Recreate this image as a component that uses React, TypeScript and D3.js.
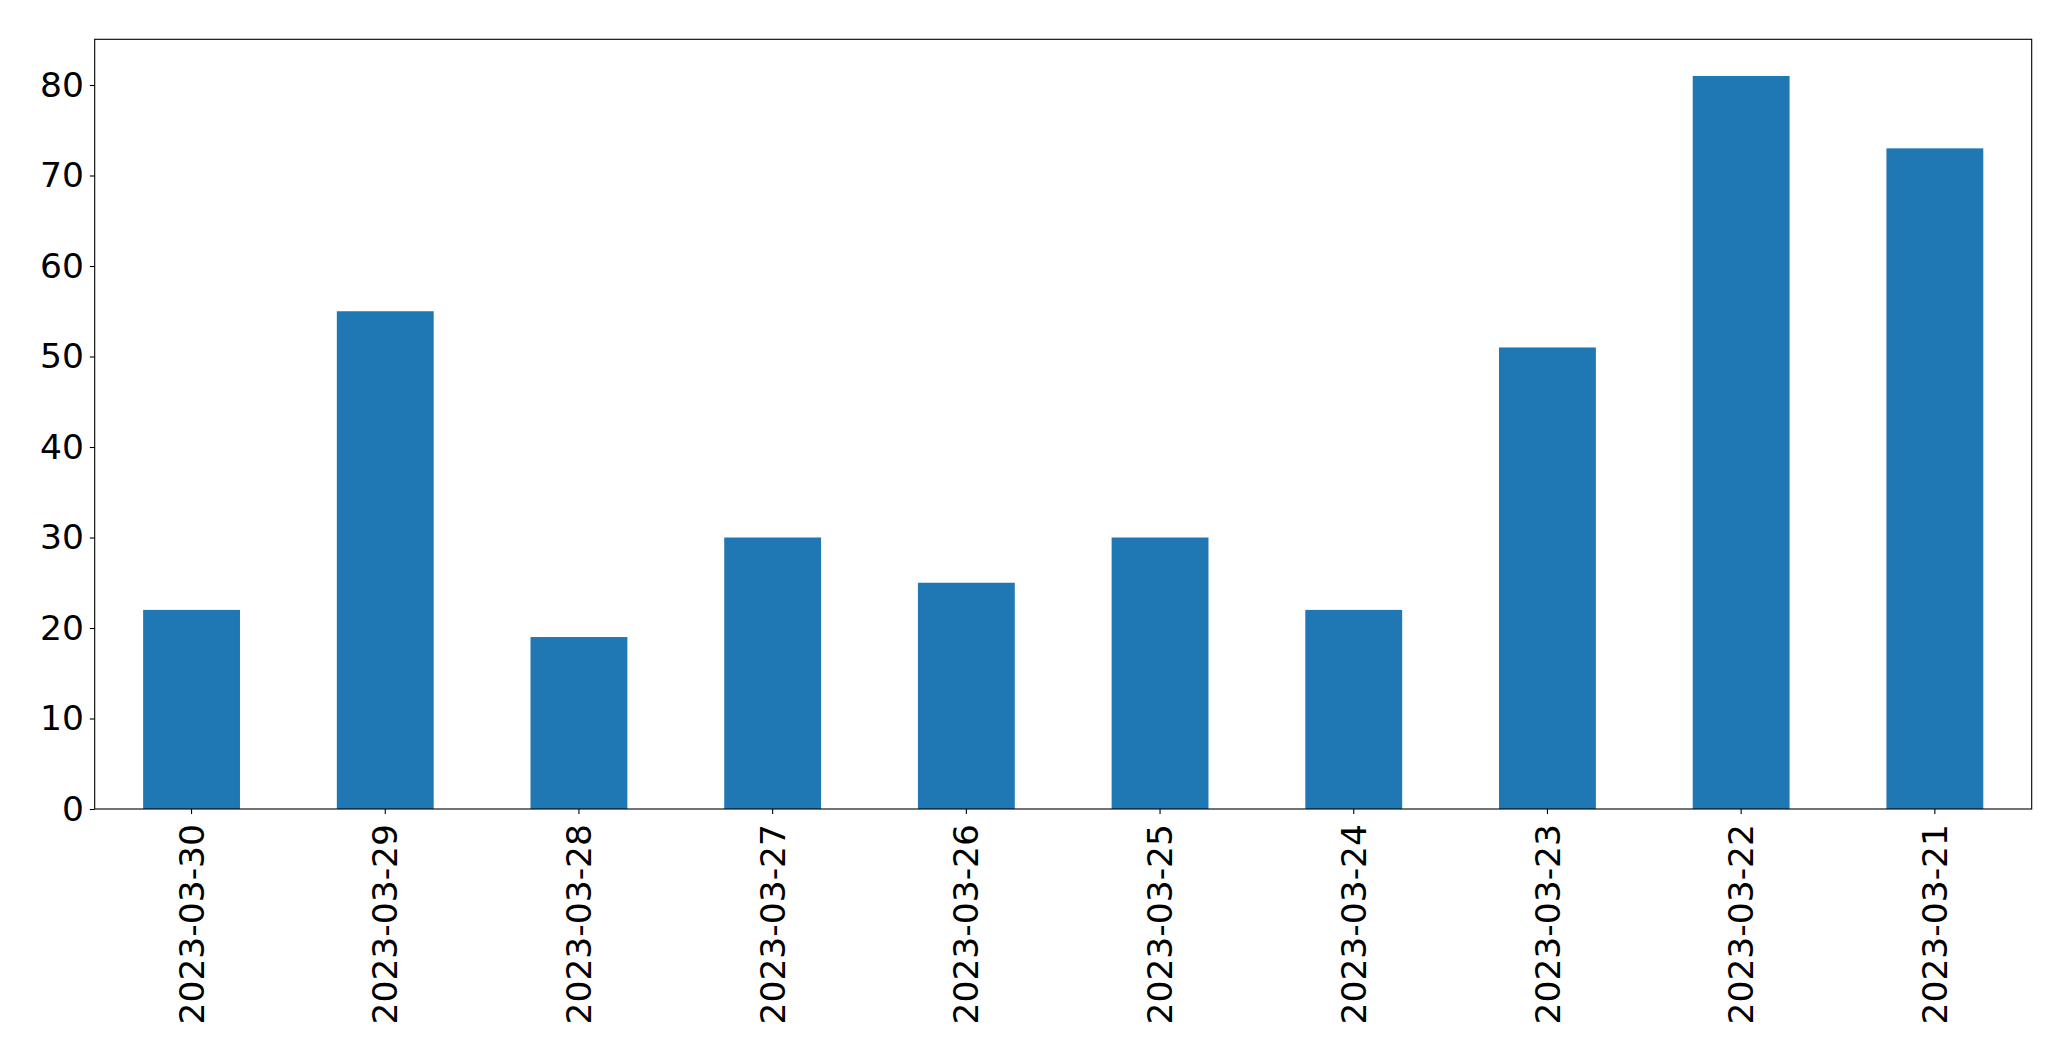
import { axisBottom, axisLeft, scaleBand, scaleLinear, select } from "d3";
import React, { useEffect, useRef } from "react";

const dates = [
  "2023-03-30",
  "2023-03-29",
  "2023-03-28",
  "2023-03-27",
  "2023-03-26",
  "2023-03-25",
  "2023-03-24",
  "2023-03-23",
  "2023-03-22",
  "2023-03-21",
];
const counts = [22, 55, 19, 30, 25, 30, 22, 51, 81, 73];
const yTicks = [0, 10, 20, 30, 40, 50, 60, 70, 80];

const width = 2071;
const height = 1061;
const margin = { top: 39.3, right: 39.3, bottom: 252, left: 94.7 };
const font = "DejaVu Sans, sans-serif";
const fontSize = 34.5;

export default function App() {
  const ref = useRef<SVGSVGElement>(null);

  useEffect(() => {
    const svg = select(ref.current);
    svg.selectAll("*").remove();

    const x = scaleBand()
      .domain(dates)
      .range([margin.left, width - margin.right])
      .paddingInner(0.5)
      .paddingOuter(0.25);

    // matplotlib pads the top by 5%
    const y = scaleLinear()
      .domain([0, 81 * 1.05])
      .range([height - margin.bottom, margin.top]);

    svg
      .append("g")
      .attr("fill", "#1f77b4")
      .selectAll("rect")
      .data(counts)
      .join("rect")
      .attr("x", (d, i) => x(dates[i]))
      .attr("y", (d) => y(d))
      .attr("width", x.bandwidth())
      .attr("height", (d) => y(0) - y(d));

    // x axis, labels turned upright
    svg
      .append("g")
      .attr("transform", `translate(0,${height - margin.bottom})`)
      .call(axisBottom(x).tickSize(4.9))
      .call((g) => g.select(".domain").remove())
      .call((g) => g.selectAll("line").attr("stroke", "#000").attr("stroke-width", 1.1))
      .call((g) =>
        g
          .selectAll("text")
          .attr("y", 0)
          .attr("x", -15)
          .attr("dy", "0.35em")
          .attr("transform", "rotate(-90)")
          .style("text-anchor", "end")
      );

    svg
      .append("g")
      .attr("transform", `translate(${margin.left},0)`)
      .call(axisLeft(y).tickValues(yTicks).tickSize(4.9).tickPadding(5.8))
      .call((g) => g.select(".domain").remove())
      .call((g) => g.selectAll("line").attr("stroke", "#000").attr("stroke-width", 1.1));

    svg
      .selectAll(".tick text")
      .attr("fill", "#000")
      .style("font-family", font)
      .style("font-size", `${fontSize}px`);

    // frame
    svg
      .append("rect")
      .attr("x", margin.left)
      .attr("y", margin.top)
      .attr("width", width - margin.left - margin.right)
      .attr("height", height - margin.top - margin.bottom)
      .attr("fill", "none")
      .attr("stroke", "#000")
      .attr("stroke-width", 1.1);
  }, []);

  return (
    <svg
      ref={ref}
      width={width}
      height={height}
      style={{ position: "absolute", left: 0, top: 0, background: "#fff" }}
    ></svg>
  );
}
